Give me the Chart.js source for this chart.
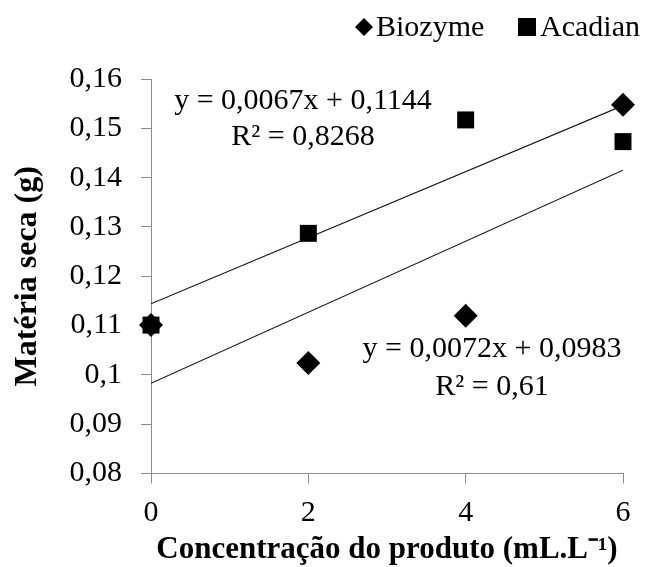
<!DOCTYPE html>
<html>
<head>
<meta charset="utf-8">
<script src="https://cdn.jsdelivr.net/npm/chart.js@4.4.1/dist/chart.umd.min.js"></script>
<style>
  body { margin: 0; background: #fff; }
  #wrap { width: 645px; height: 567px; position: relative; }
</style>
</head>
<body>
<div id="wrap"><canvas id="myChart"></canvas></div>
<script>
// values
const concentrations = [0, 2, 4, 6];
const biozyme = [0.1101, 0.1024, 0.1120, 0.1548];
const acadian = [0.1101, 0.1287, 0.1517, 0.1473];
const trendX = [0, 6];
const biozymeTrend = [0.0983, 0.1415];   // y = 0,0072x + 0,0983
const acadianTrend = [0.1144, 0.1546];   // y = 0,0067x + 0,1144
const yTickLabels = ['0,08', '0,09', '0,1', '0,11', '0,12', '0,13', '0,14', '0,15', '0,16'];
const xTickLabels = ['0', '2', '4', '6'];

const serif = "'Liberation Serif', 'Times New Roman', serif";
const axisGray = '#8c8c8c';

function toPoints(xs, ys) {
    return xs.map(function (x, i) { return {x: x, y: ys[i]}; });
}

// legend + regression equations, drawn on top
const textPlugin = {
    id: 'textPlugin',
    afterDraw: function (chart) {
        const ctx = chart.ctx;
        ctx.save();
        ctx.fillStyle = '#000';
        ctx.font = '30px ' + serif;
        ctx.textBaseline = 'alphabetic';

        // legend
        ctx.beginPath();
        ctx.moveTo(355, 27); ctx.lineTo(364, 18); ctx.lineTo(373, 27); ctx.lineTo(364, 36);
        ctx.closePath();
        ctx.fill();
        ctx.textAlign = 'left';
        ctx.fillText('Biozyme', 376, 36);
        ctx.fillRect(518, 18, 18, 18);
        ctx.fillText('Acadian', 540, 36);

        // equations
        ctx.textAlign = 'center';
        ctx.fillText('y = 0,0067x + 0,1144', 303, 109);
        ctx.fillText('R² = 0,8268', 303, 145);
        ctx.fillText('y = 0,0072x + 0,0983', 492, 357);
        ctx.fillText('R² = 0,61', 492, 395);
        ctx.restore();
    }
};

let ctx = document.getElementById('myChart').getContext('2d');
let myChart = new Chart(ctx, {
    type: 'scatter',
    data: {
        datasets: [{
            label: 'Biozyme',
            data: toPoints(concentrations, biozyme),
            pointStyle: 'rectRot',
            pointRadius: 12,
            pointBorderWidth: 0,
            backgroundColor: '#000',
            borderColor: '#000',
            clip: false
        }, {
            label: 'Acadian',
            data: toPoints(concentrations, acadian),
            pointStyle: 'rect',
            pointRadius: 12,
            pointBorderWidth: 0,
            backgroundColor: '#000',
            borderColor: '#000',
            clip: false
        }, {
            type: 'line',
            label: 'trend Acadian',
            data: toPoints(trendX, acadianTrend),
            borderColor: '#111',
            borderWidth: 1.1,
            pointRadius: 0,
            fill: false
        }, {
            type: 'line',
            label: 'trend Biozyme',
            data: toPoints(trendX, biozymeTrend),
            borderColor: '#111',
            borderWidth: 1.1,
            pointRadius: 0,
            fill: false
        }]
    },
    options: {
        responsive: true,
        maintainAspectRatio: false,
        animation: false,
        layout: {padding: {top: 79, right: 22, bottom: 0, left: 0}},
        plugins: {
            legend: {display: false},
            tooltip: {enabled: false}
        },
        scales: {
            x: {
                type: 'linear',
                min: 0,
                max: 6,
                afterFit: function (scale) { scale.height = 93.5; },
                afterBuildTicks: function (scale) {
                    scale.ticks = xTickLabels.map(function (t) { return {value: Number(t)}; });
                },
                ticks: {
                    color: '#000',
                    font: {family: serif, size: 30},
                    padding: 12,
                    maxRotation: 0,
                    callback: function (v, i) { return xTickLabels[i]; }
                },
                grid: {drawOnChartArea: false, tickLength: 10, color: axisGray},
                border: {color: axisGray, width: 1},
                title: {
                    display: true,
                    text: 'Concentração do produto (mL.L⁻¹)',
                    color: '#000',
                    font: {family: serif, size: 31, weight: 'bold', lineHeight: 1},
                    padding: {top: 0, bottom: 2}
                }
            },
            y: {
                min: 0.08,
                max: 0.16,
                afterFit: function (scale) { scale.width = 151; },
                afterBuildTicks: function (scale) {
                    scale.ticks = yTickLabels.map(function (t) { return {value: Number(t.replace(',', '.'))}; });
                },
                ticks: {
                    color: '#000',
                    font: {family: serif, size: 30},
                    padding: 19,
                    callback: function (v, i) { return yTickLabels[i]; }
                },
                grid: {drawOnChartArea: false, tickLength: 10, color: axisGray},
                border: {color: axisGray, width: 1},
                title: {
                    display: true,
                    text: 'Matéria seca (g)',
                    color: '#000',
                    font: {family: serif, size: 32, weight: 'bold', lineHeight: 1},
                    padding: {top: 12, bottom: 0}
                }
            }
        }
    },
    plugins: [textPlugin]
});
</script>
</body>
</html>
